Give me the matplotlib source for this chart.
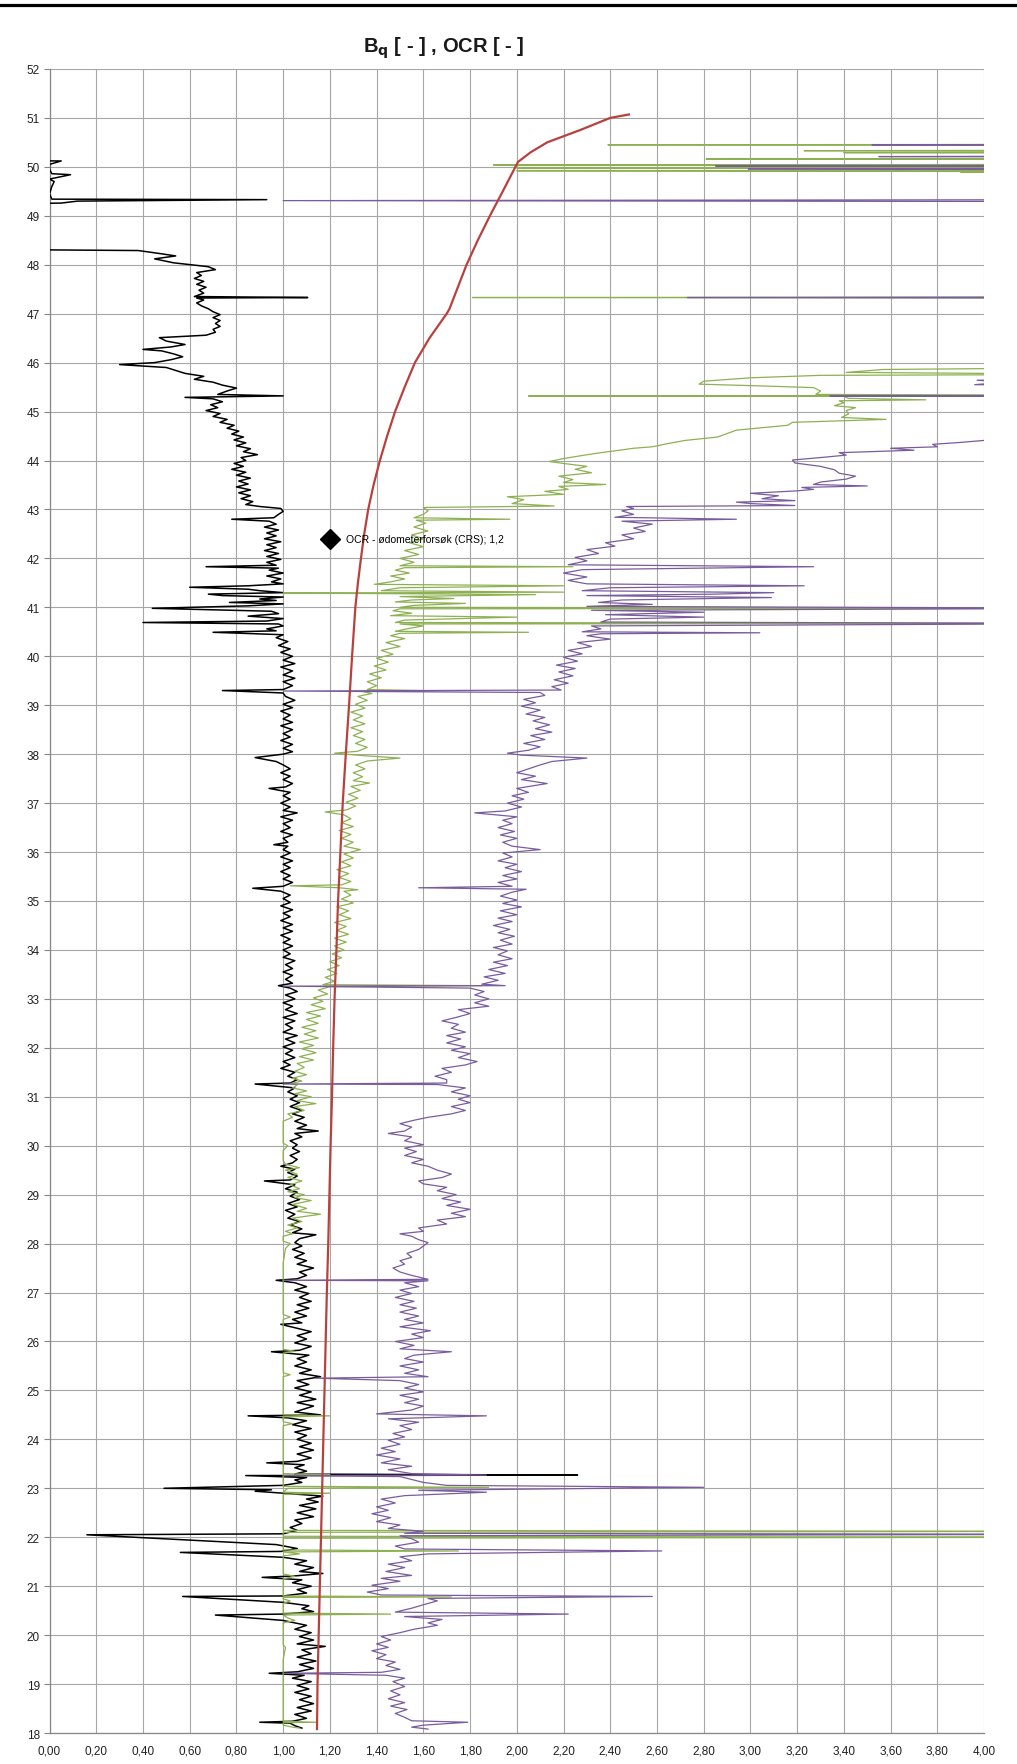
import matplotlib
matplotlib.use("Agg")
import matplotlib.pyplot as plt
from matplotlib.ticker import MultipleLocator, FuncFormatter
from matplotlib.lines import Line2D

# ---------------- data (depth [m], value [-]) ----------------
OFF = 4.6  # values beyond the x-axis maximum (clipped by the axes)

bq_profile = [
(18.10,1.08),(18.15,1.05),(18.20,1.03),(18.22,0.90),(18.24,1.04),(18.30,1.10),(18.38,1.05),(18.45,1.12),(18.52,1.06),(18.60,1.13),
(18.68,1.07),(18.75,1.12),(18.83,1.05),(18.90,1.11),(18.97,1.06),(19.05,1.12),(19.12,1.04),(19.18,1.09),(19.22,0.94),(19.25,1.06),
(19.32,1.13),(19.40,1.07),(19.47,1.14),(19.55,1.06),(19.62,1.12),(19.70,1.08),(19.77,1.18),(19.82,1.06),(19.90,1.13),(19.97,1.07),
(20.05,1.12),(20.12,1.05),(20.20,1.10),(20.26,1.04),(20.30,1.00),(20.41,0.71),(20.43,1.00),(20.48,1.13),(20.54,1.08),(20.60,1.11),
(20.67,1.00),(20.79,0.57),(20.80,1.00),(20.86,1.10),(20.93,1.06),(21.00,1.12),(21.07,1.04),(21.13,1.08),(21.18,0.91),(21.21,1.05),
(21.26,1.17),(21.30,1.07),(21.38,1.13),(21.45,1.05),(21.52,1.10),(21.59,1.00),(21.69,0.56),(21.71,0.99),(21.77,1.06),(21.85,0.97),
(22.05,0.16),(22.07,1.00),(22.14,1.06),(22.20,1.03),(22.28,1.08),(22.35,1.05),(22.42,1.13),(22.50,1.06),(22.58,1.14),(22.65,1.07),
(22.72,1.15),(22.78,1.10),(22.84,1.17),(22.90,1.00),(22.94,0.88),(22.97,0.95),(23.00,0.49),(23.06,1.00),(23.12,1.08),(23.17,1.05),
(23.22,1.10),(23.26,0.84),(23.27,2.26),(23.29,1.05),(23.35,1.10),(23.42,1.05),(23.48,1.09),(23.52,0.93),(23.55,1.06),(23.62,1.12),
(23.70,1.06),(23.78,1.13),(23.85,1.07),(23.92,1.12),(24.00,1.06),(24.08,1.10),(24.15,1.05),(24.22,1.12),(24.30,1.04),(24.38,1.10),
(24.44,1.02),(24.48,0.85),(24.50,1.16),(24.56,1.05),(24.62,1.09),(24.68,1.13),(24.75,1.06),(24.82,1.14),(24.90,1.07),(24.97,1.12),
(25.05,1.05),(25.12,1.11),(25.20,1.06),(25.28,1.16),(25.35,1.07),(25.42,1.12),(25.50,1.05),(25.58,1.10),(25.65,1.06),(25.72,1.11),
(25.79,0.95),(25.82,1.07),(25.90,1.12),(25.97,1.05),(26.05,1.10),(26.12,1.06),(26.20,1.12),(26.28,1.05),(26.35,0.99),(26.38,1.08),
(26.45,1.04),(26.52,1.10),(26.60,1.05),(26.68,1.11),(26.75,1.06),(26.82,1.12),(26.90,1.07),(26.98,1.11),(27.05,1.05),(27.12,1.10),
(27.20,1.05),(27.25,0.97),(27.28,1.06),(27.35,1.10),(27.42,1.07),(27.50,1.13),(27.58,1.06),(27.65,1.10),(27.72,1.05),(27.80,1.09),
(27.88,1.04),(27.95,1.08),(28.02,1.05),(28.10,1.07),(28.18,1.14),(28.22,1.04),(28.30,1.08),(28.38,1.03),(28.45,1.07),(28.52,1.02),
(28.60,1.05),(28.68,1.01),(28.75,1.06),(28.82,1.02),(28.90,1.07),(28.97,1.03),(29.05,1.06),(29.12,1.01),(29.20,1.05),(29.28,0.92),
(29.30,1.03),(29.38,1.06),(29.45,1.02),(29.52,1.05),(29.58,0.99),(29.65,1.04),(29.72,1.06),(29.80,1.03),(29.88,1.07),(29.95,1.04),
(30.02,1.06),(30.10,1.03),(30.18,1.08),(30.25,1.05),(30.30,1.15),(30.35,1.06),(30.42,1.10),(30.50,1.05),(30.58,1.09),(30.65,1.04),
(30.72,1.08),(30.80,1.03),(30.88,1.07),(30.95,1.03),(31.02,1.06),(31.10,1.02),(31.18,1.05),(31.26,0.88),(31.28,1.03),(31.35,1.06),
(31.42,1.02),(31.50,1.05),(31.58,0.99),(31.65,1.03),(31.72,1.00),(31.80,1.05),(31.88,1.01),(31.95,1.04),(32.02,1.00),(32.10,1.05),
(32.18,1.01),(32.25,1.06),(32.32,1.00),(32.40,1.04),(32.48,1.01),(32.55,1.05),(32.62,1.00),(32.70,1.06),(32.78,1.01),(32.85,1.04),
(32.92,1.00),(33.00,1.05),(33.08,1.01),(33.15,1.06),(33.22,1.03),(33.27,0.98),(33.32,1.04),(33.40,1.01),(33.48,1.04),(33.55,1.00),
(33.62,1.04),(33.70,1.01),(33.78,1.05),(33.85,1.00),(33.92,1.03),(34.00,1.00),(34.08,1.04),(34.15,1.00),(34.22,1.03),(34.30,0.99),
(34.38,1.04),(34.45,1.00),(34.52,1.04),(34.60,0.99),(34.68,1.03),(34.75,1.00),(34.82,1.04),(34.90,0.99),(34.97,1.03),(35.05,1.00),
(35.12,1.03),(35.20,0.99),(35.26,0.87),(35.30,1.00),(35.38,1.04),(35.45,1.00),(35.52,1.03),(35.60,0.99),(35.68,1.03),(35.75,1.00),
(35.82,1.04),(35.90,0.99),(35.98,1.03),(36.05,1.00),(36.12,1.02),(36.15,0.96),(36.20,1.02),(36.28,1.00),(36.35,1.04),(36.42,0.99),
(36.50,1.03),(36.58,1.00),(36.65,1.04),(36.72,0.99),(36.80,1.06),(36.85,1.00),(36.92,1.03),(37.00,0.99),(37.08,1.03),(37.15,1.00),
(37.22,1.03),(37.30,0.94),(37.33,1.01),(37.40,1.04),(37.48,1.00),(37.55,1.03),(37.62,0.99),(37.70,1.03),(37.78,1.00),(37.85,0.97),
(37.93,0.88),(38.00,1.00),(38.05,1.04),(38.12,1.00),(38.20,1.04),(38.28,0.99),(38.35,1.03),(38.42,1.00),(38.50,1.04),(38.58,0.99),
(38.65,1.04),(38.72,1.00),(38.80,1.03),(38.88,0.99),(38.95,1.04),(39.02,1.00),(39.10,1.05),(39.18,1.01),(39.25,1.00),(39.30,0.74),
(39.32,1.00),(39.40,1.04),(39.48,1.00),(39.55,1.05),(39.62,1.00),(39.70,1.04),(39.78,0.99),(39.85,1.05),(39.92,1.00),(40.00,1.04),
(40.08,0.99),(40.15,1.03),(40.22,0.98),(40.30,1.02),(40.38,0.97),(40.44,1.00),(40.49,0.70),(40.52,0.97),(40.56,0.93),(40.62,1.00),
(40.66,0.98),(40.69,0.40),(40.72,0.93),(40.77,1.00),(40.82,0.85),(40.87,0.98),(40.92,0.95),(40.98,0.44),(41.03,0.85),(41.07,1.00),
(41.10,0.77),(41.14,0.97),(41.17,0.90),(41.21,1.00),(41.24,0.74),(41.27,0.68),(41.30,1.00),(41.34,0.90),(41.37,0.85),(41.41,0.60),
(41.44,0.85),(41.48,1.00),(41.52,0.95),(41.58,0.99),(41.64,0.93),(41.70,1.00),(41.76,0.94),(41.80,0.98),(41.83,0.67),(41.86,0.97),
(41.92,0.93),(41.98,0.99),(42.04,0.93),(42.10,0.98),(42.16,0.92),(42.22,0.97),(42.28,0.93),(42.34,0.99),(42.40,0.92),(42.46,0.97),
(42.52,0.93),(42.58,0.98),(42.64,0.92),(42.70,0.97),(42.76,0.94),(42.80,0.78),(42.83,0.96),(42.90,0.98),(42.96,1.00),(43.02,0.99),
(43.06,0.90),(43.10,0.84),(43.16,0.87),(43.22,0.82),(43.28,0.86),(43.34,0.81),(43.40,0.86),(43.46,0.80),(43.52,0.85),(43.58,0.81),
(43.64,0.86),(43.70,0.80),(43.76,0.84),(43.82,0.78),(43.88,0.83),(43.94,0.79),(44.00,0.84),(44.06,0.82),(44.12,0.89),(44.18,0.83),
(44.24,0.86),(44.30,0.80),(44.36,0.84),(44.42,0.79),(44.48,0.83),(44.54,0.78),(44.60,0.81),(44.66,0.76),(44.72,0.79),(44.78,0.73),
(44.84,0.76),(44.90,0.70),(44.96,0.73),(45.02,0.67),(45.08,0.72),(45.14,0.69),(45.20,0.74),(45.26,0.70),(45.29,0.58),(45.32,1.00),
(45.35,0.72),(45.42,0.76),(45.48,0.80),(45.54,0.74),(45.60,0.70),(45.66,0.62),(45.72,0.66),(45.78,0.58),(45.84,0.54),(45.90,0.50),
(45.96,0.30),(46.00,0.45),(46.06,0.52),(46.12,0.57),(46.18,0.53),(46.24,0.48),(46.27,0.40),(46.32,0.52),(46.37,0.58),(46.44,0.50),
(46.51,0.47),(46.56,0.67),(46.62,0.71),(46.68,0.70),(46.74,0.73),(46.80,0.71),(46.86,0.73),(46.92,0.70),(46.98,0.73),(47.04,0.70),
(47.10,0.68),(47.16,0.65),(47.22,0.63),(47.28,0.66),(47.32,0.63),(47.33,1.105),(47.35,0.62),(47.42,0.66),(47.48,0.64),(47.54,0.67),
(47.60,0.63),(47.66,0.66),(47.72,0.62),(47.78,0.65),(47.84,0.63),(47.90,0.71),(47.96,0.68),(48.04,0.53),(48.12,0.45),(48.18,0.54),
(48.23,0.47),(48.29,0.38),(48.31,-0.2),(49.24,-0.2),(49.26,0.05),(49.30,0.12),(49.33,0.93),(49.34,0.01),(49.45,0.00),(49.60,0.01),
(49.70,0.02),(49.75,0.00),(49.84,0.09),(49.86,0.01),(49.95,0.00),(50.05,0.00),(50.12,0.05),(50.13,-0.2),
]

ocr_green_profile = [
(18.10,1.07),(18.12,1.04),(18.16,1.00),(18.21,1.00),(18.22,1.14),(18.24,1.00),(18.60,1.00),(19.00,1.00),(19.50,1.00),(19.75,1.01),
(19.80,1.00),(20.25,1.00),(20.30,1.05),(20.35,1.02),(20.41,1.00),(20.43,1.46),(20.45,1.00),(20.65,1.00),(20.70,1.03),(20.74,1.00),
(20.77,1.00),(20.78,1.72),(20.80,1.00),(21.15,1.00),(21.20,1.05),(21.25,1.00),(21.62,1.00),(21.66,1.07),(21.70,1.00),(21.72,1.75),
(21.74,1.00),(21.98,1.00),(22.00,OFF),(22.02,1.00),(22.10,1.00),(22.12,OFF),(22.14,1.00),(22.88,1.00),(22.90,1.20),(22.92,1.00),
(23.00,1.02),(23.02,1.88),(23.04,1.00),(23.26,1.00),(23.28,1.20),(23.30,1.00),(24.28,1.00),(24.32,1.04),(24.36,1.00),(24.46,1.00),
(24.48,1.20),(24.50,1.00),(25.28,1.00),(25.32,1.03),(25.36,1.00),(25.76,1.00),(25.80,1.05),(25.84,1.00),(26.45,1.00),(26.50,1.03),
(26.55,1.00),(27.20,1.00),(27.60,1.00),(27.90,1.01),(28.00,1.03),(28.05,1.00),(28.15,1.00),(28.20,1.04),(28.25,1.01),(28.32,1.06),
(28.38,1.02),(28.45,1.08),(28.52,1.04),(28.60,1.16),(28.66,1.06),(28.72,1.10),(28.80,1.04),(28.88,1.12),(28.94,1.05),(29.00,1.09),
(29.06,1.02),(29.12,1.07),(29.20,1.03),(29.28,1.08),(29.35,1.02),(29.42,1.06),(29.50,1.01),(29.55,1.07),(29.62,1.01),(29.70,1.00),
(29.90,1.00),(30.00,1.02),(30.05,1.00),(30.50,1.00),(30.58,1.04),(30.65,1.02),(30.72,1.09),(30.80,1.05),(30.86,1.14),(30.92,1.06),
(31.00,1.12),(31.06,1.05),(31.12,1.10),(31.18,1.04),(31.24,1.06),(31.27,1.03),(31.32,1.08),(31.38,1.04),(31.45,1.10),(31.52,1.05),
(31.60,1.09),(31.68,1.06),(31.75,1.13),(31.82,1.07),(31.90,1.14),(31.98,1.08),(32.05,1.13),(32.12,1.07),(32.20,1.15),(32.28,1.09),
(32.35,1.14),(32.42,1.08),(32.50,1.15),(32.58,1.10),(32.65,1.16),(32.72,1.10),(32.80,1.18),(32.88,1.12),(32.95,1.17),(33.02,1.13),
(33.10,1.19),(33.18,1.15),(33.25,1.20),(33.27,1.85),(33.29,1.17),(33.36,1.22),(33.44,1.18),(33.52,1.23),(33.60,1.19),(33.68,1.24),
(33.76,1.20),(33.84,1.25),(33.92,1.21),(34.00,1.26),(34.08,1.22),(34.16,1.27),(34.24,1.22),(34.32,1.28),(34.40,1.23),(34.48,1.27),
(34.56,1.22),(34.64,1.29),(34.72,1.24),(34.80,1.28),(34.88,1.23),(34.96,1.30),(35.04,1.25),(35.12,1.29),(35.20,1.26),(35.23,1.32),
(35.27,1.24),(35.31,1.03),(35.33,1.25),(35.40,1.29),(35.48,1.24),(35.56,1.28),(35.64,1.23),(35.72,1.29),(35.80,1.25),(35.88,1.30),
(35.96,1.26),(36.05,1.33),(36.12,1.26),(36.20,1.30),(36.28,1.25),(36.36,1.29),(36.44,1.24),(36.52,1.30),(36.60,1.25),(36.68,1.29),
(36.76,1.26),(36.82,1.18),(36.86,1.27),(36.94,1.31),(37.02,1.27),(37.10,1.32),(37.18,1.28),(37.26,1.33),(37.34,1.29),(37.41,1.37),
(37.46,1.30),(37.54,1.34),(37.62,1.30),(37.70,1.35),(37.78,1.31),(37.86,1.36),(37.92,1.50),(37.97,1.34),(38.02,1.22),(38.06,1.32),
(38.14,1.36),(38.22,1.31),(38.30,1.35),(38.38,1.30),(38.46,1.34),(38.54,1.29),(38.62,1.35),(38.70,1.30),(38.78,1.34),(38.86,1.29),
(38.94,1.35),(39.02,1.31),(39.10,1.36),(39.18,1.32),(39.24,1.38),(39.28,1.34),(39.30,1.60),(39.32,1.36),(39.40,1.40),(39.48,1.36),
(39.56,1.42),(39.64,1.37),(39.72,1.44),(39.80,1.39),(39.88,1.45),(39.96,1.40),(40.04,1.47),(40.12,1.42),(40.20,1.50),(40.28,1.44),
(40.36,1.52),(40.42,1.46),(40.47,1.50),(40.49,2.05),(40.51,1.48),(40.57,1.54),(40.62,1.60),(40.66,1.50),(40.67,OFF),(40.69,1.48),
(40.74,1.52),(40.80,2.00),(40.83,1.46),(40.88,1.55),(40.93,1.47),(40.97,1.50),(40.98,OFF),(41.00,1.50),(41.04,1.56),(41.08,1.78),
(41.11,1.48),(41.15,1.55),(41.18,1.73),(41.22,1.50),(41.26,2.08),(41.28,1.45),(41.29,1.00),(41.31,2.20),(41.34,1.42),(41.40,1.50),
(41.44,2.20),(41.47,1.39),(41.52,1.46),(41.58,1.52),(41.64,1.46),(41.70,1.54),(41.76,1.48),(41.81,1.52),(41.83,2.24),(41.85,1.50),
(41.92,1.56),(42.00,1.50),(42.08,1.58),(42.16,1.52),(42.24,1.60),(42.32,1.54),(42.40,1.60),(42.48,1.55),(42.56,1.62),(42.64,1.56),
(42.72,1.61),(42.78,1.57),(42.80,1.97),(42.83,1.56),(42.90,1.60),(42.97,1.62),(43.04,1.60),(43.07,2.16),(43.12,1.98),(43.20,2.03),
(43.26,1.96),(43.31,2.20),(43.37,2.12),(43.41,2.22),(43.47,2.18),(43.51,2.38),(43.55,2.20),(43.61,2.24),(43.68,2.18),(43.75,2.32),
(43.82,2.25),(43.88,2.30),(43.94,2.20),(43.98,2.14),(44.04,2.20),(44.11,2.29),(44.16,2.36),(44.21,2.44),(44.25,2.50),(44.28,2.58),
(44.34,2.64),(44.41,2.72),(44.45,2.80),(44.48,2.86),(44.55,2.90),(44.62,2.94),(44.67,3.05),(44.72,3.16),(44.78,3.18),(44.84,3.58),
(44.88,3.39),(44.95,3.42),(45.02,3.41),(45.08,3.45),(45.12,3.36),(45.18,3.40),(45.22,3.38),(45.24,3.75),(45.27,3.42),(45.31,3.40),
(45.32,2.05),(45.33,OFF),(45.35,3.28),(45.42,3.30),(45.49,3.27),(45.53,3.00),(45.56,2.78),(45.62,2.80),(45.69,3.00),(45.74,3.30),
(45.76,OFF),(45.80,3.41),(45.86,3.57),(45.90,OFF),(47.32,OFF),(47.33,1.81),(47.34,OFF),(49.89,OFF),(49.895,3.90),(49.90,OFF),
(49.92,2.00),(49.93,OFF),(49.97,OFF),(49.975,2.00),(49.98,2.71),(49.99,OFF),(50.03,OFF),(50.04,1.90),(50.05,OFF),(50.15,OFF),
(50.16,2.81),(50.17,OFF),(50.28,OFF),(50.29,3.40),(50.30,OFF),(50.32,OFF),(50.33,3.23),(50.34,OFF),(50.44,OFF),(50.45,2.39),
(50.46,OFF),
]

ocr_purple_profile = [
(18.08,1.62),(18.12,1.55),(18.16,1.60),(18.22,1.79),(18.25,1.55),(18.32,1.52),(18.40,1.48),(18.48,1.53),(18.55,1.46),(18.62,1.52),
(18.70,1.45),(18.78,1.50),(18.86,1.46),(18.95,1.52),(19.05,1.47),(19.12,1.52),(19.18,1.44),(19.22,1.00),(19.24,1.42),(19.30,1.50),
(19.38,1.44),(19.45,1.48),(19.52,1.40),(19.60,1.44),(19.68,1.38),(19.75,1.45),(19.82,1.40),(19.90,1.46),(19.97,1.42),(20.05,1.50),
(20.12,1.56),(20.20,1.66),(20.25,1.62),(20.32,1.68),(20.38,1.52),(20.43,2.22),(20.47,1.48),(20.55,1.55),(20.62,1.60),(20.70,1.66),
(20.75,1.62),(20.79,2.58),(20.82,1.42),(20.88,1.36),(20.95,1.45),(21.02,1.38),(21.10,1.50),(21.16,1.42),(21.22,1.55),(21.30,1.44),
(21.38,1.52),(21.45,1.45),(21.52,1.55),(21.60,1.50),(21.66,1.62),(21.72,2.62),(21.76,1.52),(21.82,1.48),(21.90,1.58),(21.97,1.55),
(22.03,1.50),(22.06,OFF),(22.08,1.52),(22.12,1.60),(22.18,1.45),(22.25,1.50),(22.32,1.40),(22.40,1.46),(22.48,1.38),(22.55,1.45),
(22.62,1.40),(22.70,1.48),(22.78,1.42),(22.85,1.52),(22.92,1.87),(22.96,1.58),(23.02,2.80),(23.06,1.70),(23.12,1.60),(23.18,1.55),
(23.24,1.50),(23.26,1.00),(23.27,1.87),(23.30,1.55),(23.38,1.45),(23.45,1.55),(23.52,1.42),(23.60,1.50),(23.68,1.40),(23.75,1.48),
(23.82,1.42),(23.90,1.50),(23.98,1.45),(24.05,1.52),(24.12,1.47),(24.20,1.55),(24.28,1.50),(24.35,1.58),(24.42,1.45),(24.48,1.87),
(24.52,1.40),(24.60,1.55),(24.68,1.60),(24.75,1.52),(24.82,1.58),(24.90,1.50),(24.97,1.60),(25.05,1.52),(25.12,1.58),(25.20,1.50),
(25.25,1.14),(25.28,1.62),(25.35,1.52),(25.42,1.58),(25.50,1.50),(25.58,1.60),(25.65,1.52),(25.72,1.56),(25.79,1.72),(25.85,1.50),
(25.92,1.56),(26.00,1.48),(26.08,1.60),(26.15,1.55),(26.22,1.63),(26.30,1.50),(26.38,1.60),(26.45,1.52),(26.52,1.58),(26.60,1.50),
(26.68,1.57),(26.75,1.50),(26.82,1.56),(26.90,1.48),(26.98,1.55),(27.05,1.50),(27.12,1.58),(27.20,1.52),(27.24,1.62),(27.25,1.00),
(27.27,1.62),(27.35,1.55),(27.42,1.50),(27.50,1.47),(27.58,1.52),(27.65,1.50),(27.72,1.55),(27.80,1.53),(27.88,1.58),(27.95,1.60),
(28.02,1.62),(28.08,1.58),(28.15,1.55),(28.20,1.50),(28.25,1.60),(28.32,1.58),(28.40,1.70),(28.48,1.66),(28.55,1.78),(28.62,1.72),
(28.70,1.80),(28.78,1.70),(28.85,1.76),(28.92,1.68),(29.00,1.74),(29.08,1.66),(29.15,1.70),(29.22,1.60),(29.28,1.58),(29.35,1.68),
(29.42,1.72),(29.50,1.66),(29.58,1.62),(29.65,1.55),(29.72,1.60),(29.80,1.52),(29.88,1.57),(29.95,1.52),(30.02,1.60),(30.10,1.52),
(30.18,1.55),(30.25,1.45),(30.30,1.52),(30.38,1.55),(30.45,1.50),(30.52,1.56),(30.58,1.62),(30.65,1.72),(30.72,1.78),(30.80,1.72),
(30.88,1.80),(30.95,1.75),(31.02,1.80),(31.10,1.72),(31.18,1.78),(31.25,1.66),(31.26,1.00),(31.28,1.70),(31.35,1.70),(31.42,1.65),
(31.50,1.72),(31.58,1.68),(31.65,1.78),(31.72,1.83),(31.80,1.75),(31.88,1.80),(31.95,1.72),(32.02,1.78),(32.10,1.70),(32.18,1.76),
(32.25,1.70),(32.32,1.78),(32.40,1.72),(32.48,1.75),(32.55,1.68),(32.62,1.74),(32.70,1.80),(32.78,1.75),(32.85,1.88),(32.92,1.82),
(33.00,1.88),(33.08,1.82),(33.15,1.86),(33.22,1.80),(33.26,1.00),(33.27,1.95),(33.30,1.85),(33.38,1.92),(33.45,1.86),(33.52,1.95),
(33.60,1.88),(33.68,1.96),(33.75,1.90),(33.82,1.98),(33.90,1.92),(33.98,1.96),(34.05,1.90),(34.12,1.98),(34.20,1.93),(34.28,1.99),
(34.35,1.92),(34.42,1.97),(34.50,1.90),(34.58,1.98),(34.65,1.92),(34.72,2.00),(34.80,1.93),(34.88,2.02),(34.95,1.94),(35.02,2.00),
(35.10,1.93),(35.18,1.98),(35.24,2.04),(35.27,1.58),(35.30,1.98),(35.38,1.92),(35.45,2.00),(35.52,1.94),(35.60,2.02),(35.68,1.95),
(35.75,2.00),(35.82,1.92),(35.90,1.98),(35.98,1.94),(36.05,2.10),(36.12,1.98),(36.20,1.94),(36.28,2.00),(36.35,1.93),(36.42,1.99),
(36.50,1.92),(36.58,1.98),(36.65,1.94),(36.72,2.00),(36.80,1.82),(36.84,1.95),(36.92,2.02),(37.00,1.96),(37.08,2.03),(37.15,1.98),
(37.22,2.05),(37.30,2.00),(37.40,2.13),(37.48,2.02),(37.55,2.08),(37.62,2.00),(37.70,2.05),(37.78,2.10),(37.85,2.15),(37.92,2.30),
(37.98,2.02),(38.02,1.96),(38.08,2.05),(38.15,2.10),(38.22,2.03),(38.30,2.12),(38.38,2.06),(38.45,2.15),(38.52,2.08),(38.60,2.14),
(38.68,2.07),(38.75,2.12),(38.82,2.04),(38.90,2.10),(38.98,2.02),(39.05,2.08),(39.12,2.03),(39.20,2.12),(39.26,2.10),(39.29,1.00),
(39.31,2.19),(39.38,2.15),(39.45,2.22),(39.52,2.16),(39.60,2.24),(39.68,2.18),(39.75,2.25),(39.82,2.17),(39.90,2.26),(39.98,2.20),
(40.05,2.28),(40.12,2.22),(40.20,2.32),(40.28,2.26),(40.35,2.40),(40.42,2.30),(40.46,2.36),(40.48,3.04),(40.50,2.28),(40.56,2.36),
(40.62,2.32),(40.67,OFF),(40.70,2.36),(40.76,2.40),(40.80,2.80),(40.85,2.38),(40.90,2.80),(40.94,2.32),(40.98,OFF),(41.02,2.30),
(41.06,2.58),(41.10,2.35),(41.15,2.45),(41.20,3.09),(41.24,2.30),(41.27,2.85),(41.30,3.10),(41.34,2.28),(41.40,2.40),(41.44,3.23),
(41.48,2.30),(41.55,2.22),(41.62,2.30),(41.70,2.20),(41.77,2.28),(41.83,3.27),(41.87,2.22),(41.95,2.30),(42.02,2.25),(42.10,2.35),
(42.18,2.30),(42.25,2.42),(42.32,2.38),(42.40,2.50),(42.48,2.45),(42.55,2.55),(42.62,2.50),(42.70,2.58),(42.76,2.45),(42.80,2.94),
(42.84,2.42),(42.90,2.50),(42.97,2.45),(43.02,2.50),(43.06,2.47),(43.08,3.19),(43.12,3.00),(43.15,2.94),(43.18,3.19),(43.22,3.05),
(43.28,3.12),(43.33,3.00),(43.38,3.20),(43.41,3.27),(43.45,3.22),(43.48,3.50),(43.51,3.27),(43.56,3.30),(43.62,3.41),(43.68,3.45),
(43.74,3.38),(43.81,3.36),(43.88,3.30),(43.95,3.19),(44.01,3.18),(44.06,3.30),(44.11,3.41),(44.16,3.38),(44.21,3.70),(44.25,3.60),
(44.28,3.80),(44.33,3.78),(44.37,3.90),(44.41,4.00),(44.48,OFF),(45.31,OFF),(45.32,3.34),(45.33,OFF),(45.52,OFF),(45.55,3.96),
(45.60,4.10),(45.64,3.97),(45.67,OFF),(47.32,OFF),(47.33,2.73),(47.34,OFF),(49.29,OFF),(49.31,1.00),(49.33,OFF),(49.94,OFF),
(49.95,3.95),(49.96,2.99),(49.97,OFF),(50.01,OFF),(50.02,2.85),(50.03,OFF),(50.20,OFF),(50.21,3.55),(50.22,OFF),(50.44,OFF),
(50.45,3.52),(50.46,OFF),
]

ocr_curve = [
(18.08,1.145),(19.0,1.147),(20.0,1.152),(21.0,1.157),(22.0,1.162),(23.0,1.167),(24.0,1.172),(25.0,1.177),(26.0,1.182),
(27.0,1.187),(28.0,1.193),(29.0,1.198),(30.0,1.203),(31.0,1.209),(32.0,1.214),(33.0,1.220),(34.0,1.228),(35.0,1.235),
(36.0,1.245),(37.0,1.255),(38.0,1.268),(39.0,1.282),(40.0,1.295),(41.0,1.309),(41.5,1.320),(42.0,1.333),(42.5,1.347),
(43.0,1.364),(43.5,1.387),(44.0,1.414),(44.5,1.445),(45.0,1.479),(45.5,1.520),(46.0,1.564),(46.5,1.626),(47.0,1.700),
(47.1,1.712),(48.0,1.785),(48.5,1.833),(49.0,1.885),(49.5,1.940),(50.1,2.005),(50.3,2.060),(50.5,2.130),(50.75,2.270),
(51.0,2.400),(51.07,2.480),
]

crs_depth = [42.4]
crs_ocr = [1.2]
crs_label = "OCR - ødometerforsøk (CRS); 1,2"

title_text = r"B$_{\mathbf{q}}$ [ - ] , OCR [ - ]"

# ---------------- figure ----------------
plt.rcParams['font.family'] = ['Liberation Sans Narrow', 'Liberation Sans', 'DejaVu Sans']
plt.rcParams['mathtext.fontset'] = 'custom'
plt.rcParams['mathtext.bf'] = 'Liberation Sans Narrow:bold'
plt.rcParams['mathtext.rm'] = 'Liberation Sans Narrow'

fig = plt.figure(figsize=(10.17, 17.65), dpi=100)
ax = fig.add_axes([0.0487, 0.01756, 0.9189, 0.9428])


def draw(points, **kw):
    d = [p[0] for p in points]
    v = [p[1] for p in points]
    ax.plot(v, d, **kw)


draw(bq_profile, color='black', lw=1.1, zorder=3)
draw(ocr_green_profile, color='#8DB152', lw=0.9, zorder=4)
draw(ocr_purple_profile, color='#7A5C9E', lw=0.9, zorder=5)
draw(ocr_curve, color='#B8413E', lw=1.6, zorder=6)
ax.plot(crs_ocr, crs_depth, linestyle='none', marker='D', markersize=10,
        color='black', zorder=7)
ax.text(crs_ocr[0] + 0.07, crs_depth[0], crs_label, fontsize=7.5,
        family=['Liberation Sans', 'DejaVu Sans'], va='center', ha='left', zorder=8)

ax.set_xlim(0, 4)
ax.set_ylim(18, 52)
ax.xaxis.set_major_locator(MultipleLocator(0.2))
ax.yaxis.set_major_locator(MultipleLocator(1))
ax.xaxis.set_major_formatter(FuncFormatter(lambda x, p: f"{x:.2f}".replace('.', ',')))
ax.yaxis.set_major_formatter(FuncFormatter(lambda y, p: f"{int(round(y))}"))
ax.grid(True, color='#A6A6A6', lw=0.8)
ax.set_axisbelow(True)
for s in ['top', 'right']:
    ax.spines[s].set_visible(False)
for s in ['left', 'bottom']:
    ax.spines[s].set_color('#868686')
    ax.spines[s].set_linewidth(0.9)
ax.tick_params(axis='y', length=4, color='#868686', labelsize=8.5, pad=3, labelcolor='#222222')
ax.tick_params(axis='x', length=0, labelsize=8.5, pad=8, labelcolor='#222222')

fig.text(0.4366, 0.9728, title_text, ha='center', va='center', fontsize=14.5,
         fontweight='bold', color='#1a1a1a')
fig.add_artist(Line2D([0, 1], [1 - 5.5 / 1765] * 2, transform=fig.transFigure,
                      color='black', lw=2.3))

fig.savefig('out.png', dpi=100)
